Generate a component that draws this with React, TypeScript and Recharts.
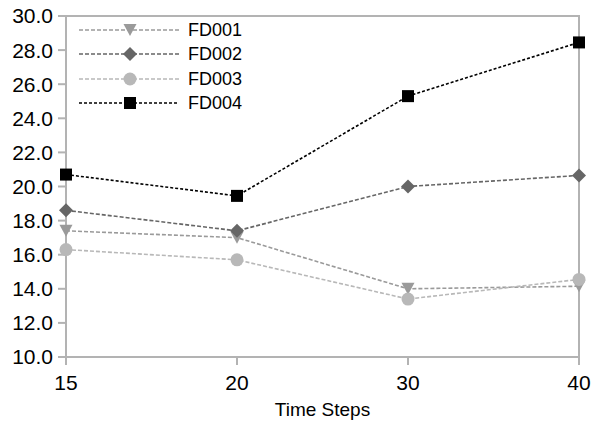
import React from 'react';
import { LineChart, Line, XAxis, YAxis, ReferenceArea } from 'recharts';

const timeSteps = ['15', '20', '30', '40'];
const fd001 = [17.4, 17.0, 14.0, 14.15];
const fd002 = [18.6, 17.4, 20.0, 20.65];
const fd003 = [16.3, 15.7, 13.4, 14.55];
const fd004 = [20.7, 19.45, 25.3, 28.45];
const yTicks = [10, 12, 14, 16, 18, 20, 22, 24, 26, 28, 30];

const data = timeSteps.map((t, i) => ({ t, FD001: fd001[i], FD002: fd002[i], FD003: fd003[i], FD004: fd004[i] }));

const FONT = '"Liberation Sans", Arial, sans-serif';
const AXIS = '#b3b3b3';

type Shape = 'tri' | 'diamond' | 'circle' | 'square';

const series: { key: string; color: string; shape: Shape; dash: string }[] = [
  { key: 'FD001', color: '#9a9a9a', shape: 'tri', dash: '4 2' },
  { key: 'FD002', color: '#666666', shape: 'diamond', dash: '4 2' },
  { key: 'FD003', color: '#b8b8b8', shape: 'circle', dash: '4 2' },
  { key: 'FD004', color: '#000000', shape: 'square', dash: '3 2' },
];

function marker(shape: Shape, cx: number, cy: number, color: string, k?: any) {
  if (shape === 'tri') {
    return <path key={k} d={`M${cx - 6.5},${cy - 6} L${cx + 6.5},${cy - 6} L${cx},${cy + 6} Z`} fill={color} />;
  }
  if (shape === 'diamond') {
    return <path key={k} d={`M${cx},${cy - 7} L${cx + 7},${cy} L${cx},${cy + 7} L${cx - 7},${cy} Z`} fill={color} />;
  }
  if (shape === 'circle') {
    return <circle key={k} cx={cx} cy={cy} r={6.5} fill={color} />;
  }
  return <rect key={k} x={cx - 6} y={cy - 6} width={12} height={12} fill={color} />;
}

const makeDot = (shape: Shape, color: string) => (props: any) => {
  const { cx, cy, index } = props;
  if (cx == null || cy == null) return <g key={index} />;
  return marker(shape, cx, cy, color, index);
};

const LegendBox = () => (
  <div style={{ position: 'absolute', left: 79, top: 18, fontFamily: FONT, fontSize: 18, color: '#000' }}>
    {series.map((s) => (
      <div key={s.key} style={{ display: 'flex', alignItems: 'center', height: 24.3 }}>
        <svg width={100} height={20} style={{ display: 'block' }}>
          <line x1={0} y1={10} x2={100} y2={10} stroke={s.color} strokeWidth={1.5} strokeDasharray={s.dash} />
          {marker(s.shape, 51, 10, s.color)}
        </svg>
        <span style={{ marginLeft: 9, lineHeight: '20px' }}>{s.key}</span>
      </div>
    ))}
  </div>
);

export default function App() {
  return (
    <div style={{ position: 'absolute', left: 0, top: 0, width: 593, height: 421 }}>
      <LineChart width={593} height={421} data={data} margin={{ top: 16, right: 14, left: 0, bottom: 0 }}>
        <ReferenceArea x1="15" x2="40" y1={10} y2={30} fill="none" stroke={AXIS} strokeWidth={2} ifOverflow="visible" />
        <XAxis
          dataKey="t"
          type="category"
          height={64}
          axisLine={{ stroke: AXIS, strokeWidth: 2 }}
          tickLine={{ stroke: AXIS, strokeWidth: 2 }}
          tickSize={8}
          tickMargin={10}
          tick={{ fill: '#000', fontSize: 21, fontFamily: FONT }}
          interval={0}
          label={{ value: 'Time Steps', position: 'insideBottom', offset: 5, fill: '#000', fontSize: 19, fontFamily: FONT }}
        />
        <YAxis
          width={66}
          domain={[10, 30]}
          ticks={yTicks}
          interval={0}
          tickFormatter={(v: number) => v.toFixed(1)}
          axisLine={{ stroke: AXIS, strokeWidth: 2 }}
          tickLine={{ stroke: AXIS, strokeWidth: 2 }}
          tickSize={8}
          tickMargin={5}
          tick={{ fill: '#000', fontSize: 21, fontFamily: FONT }}
        />
        {series.map((s) => (
          <Line
            key={s.key}
            dataKey={s.key}
            stroke={s.color}
            strokeWidth={1.6}
            strokeDasharray={s.dash}
            dot={makeDot(s.shape, s.color)}
            activeDot={false}
            isAnimationActive={false}
            legendType="none"
          />
        ))}
      </LineChart>
      <LegendBox />
    </div>
  );
}
